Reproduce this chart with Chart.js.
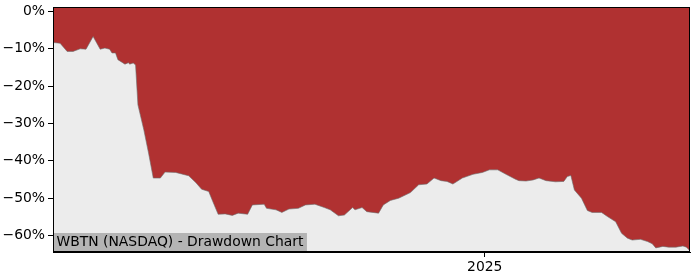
<!DOCTYPE html>
<html>
<head>
<meta charset="utf-8">
<script src="https://cdn.jsdelivr.net/npm/chart.js@4/dist/chart.umd.min.js"></script>
<style>
  html, body { margin: 0; padding: 0; background: #fff; }
  #wrap { width: 700px; height: 280px; }
</style>
</head>
<body>
<div id="wrap"><canvas id="myChart" width="700" height="280"></canvas></div>
<script>
const title = "WBTN (NASDAQ) - Drawdown Chart";

const dates = [
	"2024-01-01", "2024-01-07", "2024-01-13", "2024-01-18", "2024-01-24", "2024-01-29",
	"2024-02-04", "2024-02-10", "2024-02-14", "2024-02-18", "2024-02-20", "2024-02-23",
	"2024-02-25", "2024-03-02", "2024-03-05", "2024-03-06", "2024-03-09", "2024-03-11",
	"2024-03-13", "2024-03-18", "2024-03-22", "2024-03-26", "2024-04-01", "2024-04-05",
	"2024-04-14", "2024-04-19", "2024-04-25", "2024-05-01", "2024-05-06", "2024-05-12",
	"2024-05-16", "2024-05-20", "2024-05-26", "2024-06-01", "2024-06-06", "2024-06-14",
	"2024-06-18", "2024-06-28", "2024-06-30", "2024-07-08", "2024-07-13", "2024-07-19",
	"2024-07-27", "2024-08-02", "2024-08-10", "2024-08-18", "2024-08-23", "2024-08-30",
	"2024-09-04", "2024-09-11", "2024-09-13", "2024-09-19", "2024-09-23", "2024-10-03",
	"2024-10-07", "2024-10-13", "2024-10-20", "2024-10-30", "2024-11-06", "2024-11-13",
	"2024-11-19", "2024-11-25", "2024-11-30", "2024-12-05", "2024-12-13", "2024-12-22",
	"2024-12-30", "2025-01-05", "2025-01-12", "2025-01-19", "2025-01-27", "2025-01-30",
	"2025-02-05", "2025-02-11", "2025-02-16", "2025-02-22", "2025-03-02", "2025-03-09",
	"2025-03-12", "2025-03-15", "2025-03-18", "2025-03-24", "2025-03-29", "2025-04-02",
	"2025-04-10", "2025-04-15", "2025-04-22", "2025-04-27", "2025-05-02", "2025-05-06",
	"2025-05-13", "2025-05-19", "2025-05-23", "2025-05-26", "2025-06-01", "2025-06-06",
	"2025-06-12", "2025-06-18", "2025-06-21", "2025-06-24"
];

const drawdown = [
	-8.3, -8.5, -10.7, -10.7, -10.0, -10.1,
	-6.7, -10.1, -9.8, -10.1, -11.1, -11.1,
	-12.9, -14.1, -13.7, -14.1, -13.8, -14.3,
	-25.0, -31.7, -37.9, -44.6, -44.6, -43.0,
	-43.1, -43.5, -44.0, -45.8, -47.6, -48.2,
	-51.3, -54.3, -54.2, -54.6, -54.0, -54.3,
	-51.8, -51.6, -52.7, -53.1, -53.8, -52.9,
	-52.7, -51.8, -51.6, -52.5, -53.1, -54.7,
	-54.5, -52.5, -53.1, -52.5, -53.6, -54.0,
	-51.8, -50.6, -50.0, -48.5, -46.4, -46.2,
	-44.6, -45.3, -45.5, -46.2, -44.6, -43.6,
	-43.1, -42.4, -42.4, -43.6, -44.9, -45.3,
	-45.4, -45.1, -44.6, -45.3, -45.6, -45.5,
	-44.2, -43.9, -47.8, -50.0, -53.3, -53.8,
	-53.8, -54.9, -56.3, -59.4, -60.7, -61.2,
	-61.0, -61.6, -62.2, -63.3, -62.9, -63.1,
	-63.1, -62.8, -63.1, -64.1
];

const y_ticks = [0, -10, -20, -30, -40, -50, -60];
const x_tick_years = [2025];

const points = dates.map((d, i) => ({ x: Date.parse(d), y: drawdown[i] }));

const font = { family: "DejaVu Sans", size: 13.9 };

// gray plot background, red fill above the curve
const plotBackground = {
	id: "plotBackground",
	beforeDatasetsDraw(chart) {
		const { ctx, chartArea } = chart;
		ctx.save();
		ctx.fillStyle = "#ececec";
		ctx.fillRect(chartArea.left, chartArea.top, chartArea.width, chartArea.height);
		ctx.restore();
	}
};

// title label box in the lower left corner + axes frame
const titleBox = {
	id: "titleBox",
	afterDatasetsDraw(chart) {
		const { ctx, chartArea } = chart;
		ctx.save();
		ctx.font = "13.9px 'DejaVu Sans'";
		const w = ctx.measureText(title).width;
		ctx.fillStyle = "#b4b4b4";
		ctx.fillRect(chartArea.left, chartArea.bottom - 19, w + 7, 19);
		ctx.fillStyle = "#000";
		ctx.textBaseline = "middle";
		ctx.fillText(title, chartArea.left + 3.5, chartArea.bottom - 9.5);
		ctx.restore();
	},
	afterDraw(chart) {
		const { ctx, chartArea } = chart;
		ctx.save();
		ctx.strokeStyle = "#000";
		ctx.lineWidth = 1;
		ctx.strokeRect(chartArea.left + 0.5, chartArea.top + 0.5, chartArea.width - 1, chartArea.height - 1);
		ctx.restore();
	}
};

const config = {
	type: "line",
	data: {
		datasets: [{
			data: points,
			fill: "end",
			backgroundColor: "#b03131",
			borderColor: "rgba(110,110,110,0.6)",
			borderWidth: 1,
			pointRadius: 0,
			tension: 0
		}]
	},
	options: {
		responsive: false,
		animation: false,
		layout: { padding: { left: 0, right: 10, top: 7, bottom: 0 } },
		plugins: {
			legend: { display: false },
			tooltip: { enabled: false }
		},
		scales: {
			x: {
				type: "linear",
				min: points[0].x,
				max: points[points.length - 1].x,
				afterBuildTicks: (scale) => {
					scale.ticks = x_tick_years.map(yr => ({ value: Date.UTC(yr, 0, 1) }));
				},
				afterFit: (scale) => {
					scale.height = 28;
					scale.paddingLeft = 0;
					scale.paddingRight = 0;
				},
				ticks: {
					color: "#000",
					font: font,
					padding: 2,
					maxRotation: 0,
					callback: (v) => String(new Date(v).getUTCFullYear())
				},
				grid: { drawOnChartArea: false, drawTicks: true, tickLength: 5, color: "#000" },
				border: { display: true, color: "#000" }
			},
			y: {
				min: -64.4,
				max: 1.2,
				afterBuildTicks: (scale) => {
					scale.ticks = y_ticks.map(v => ({ value: v }));
				},
				afterFit: (scale) => {
					scale.width = 53;
					scale.paddingTop = 0;
					scale.paddingBottom = 0;
				},
				ticks: {
					color: "#000",
					font: font,
					padding: 3,
					callback: (v) => (v === 0 ? "0%" : "\u2212" + Math.abs(v) + "%")
				},
				grid: { drawOnChartArea: false, drawTicks: true, tickLength: 5, color: "#000" },
				border: { display: true, color: "#000" }
			}
		}
	},
	plugins: [plotBackground, titleBox]
};

const myChart = new Chart(document.getElementById("myChart"), config);
</script>
</body>
</html>
